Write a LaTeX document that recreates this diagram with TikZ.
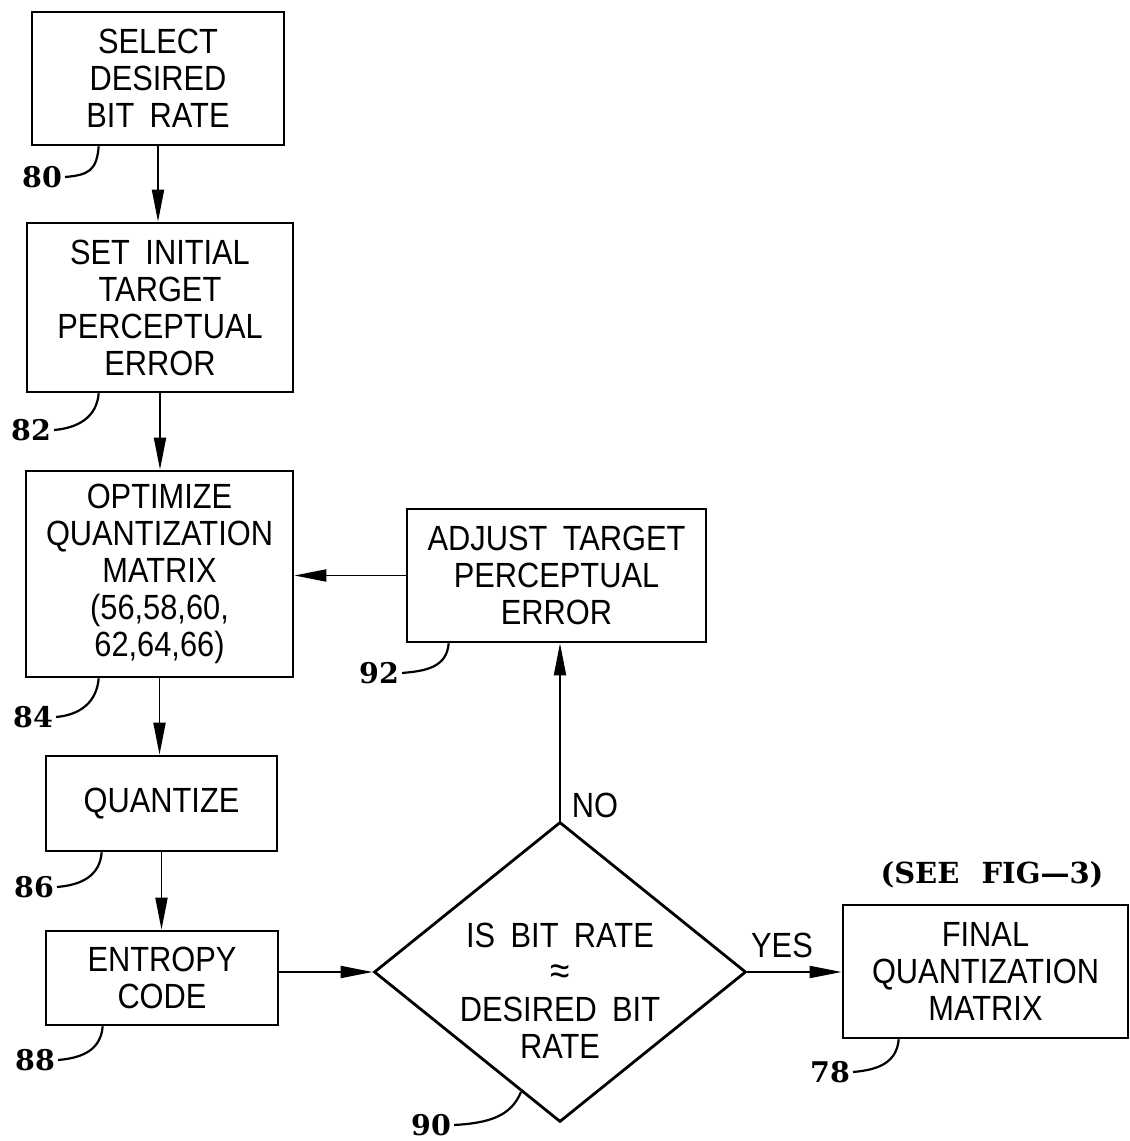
\documentclass[tikz,border=0pt]{standalone}
\usepackage{fontspec}
\setsansfont{Liberation Sans}[FakeStretch=0.88,WordSpace=1.8]
\newfontfamily\refnumfont{DejaVu Serif}[WordSpace=2.2]
\usetikzlibrary{shapes.geometric,arrows.meta}

\begin{document}
\begin{tikzpicture}[x=1pt, y=1pt,
		block/.style={draw, line width=2.6pt, align=center, inner sep=0pt,
			font=\sffamily\fontsize{35}{37}\selectfont},
		decision/.style={draw, diamond, aspect=1.24, line width=2.8pt, align=center,
			inner sep=-20pt, minimum width=372pt, minimum height=300pt,
			font=\sffamily\fontsize{35}{37}\selectfont},
		refnum/.style={inner sep=0pt, font=\refnumfont\bfseries\fontsize{28.5}{31}\selectfont},
		flowtext/.style={inner sep=0pt, font=\sffamily\fontsize{35}{37}\selectfont},
		flow/.style={line width=1.9pt, -{Triangle[length=32pt,width=12pt]}},
		leader/.style={line width=2.2pt}]
	\useasboundingbox (0,0) rectangle (1130,1141);

	% Blocks
	\node[block, minimum width=252pt, minimum height=133pt] (B_80) at (158,1062.5)
		{SELECT\\DESIRED\\BIT RATE};
	\node[block, minimum width=266pt, minimum height=169pt] (B_82) at (160,833.5)
		{SET INITIAL\\TARGET\\PERCEPTUAL\\ERROR};
	\node[block, minimum width=267pt, minimum height=206pt] (B_84) at (159.5,567)
		{OPTIMIZE\\QUANTIZATION\\MATRIX\\(56,58,60,\\62,64,66)};
	\node[block, minimum width=231pt, minimum height=95pt] (B_86) at (161.5,337.5)
		{QUANTIZE};
	\node[block, minimum width=232pt, minimum height=94pt] (B_88) at (162,163)
		{ENTROPY\\CODE};
	\node[decision] (D_90) at (560,169)
		{\rule{0pt}{62pt}IS BIT RATE\\{\fontsize{40}{37}\selectfont ≈}\\DESIRED BIT\\RATE};
	\node[block, minimum width=299pt, minimum height=133pt] (B_92) at (556.5,565.5)
		{ADJUST TARGET\\PERCEPTUAL\\ERROR};
	\node[block, minimum width=285pt, minimum height=133pt] (B_78) at (985.5,169.5)
		{FINAL\\QUANTIZATION\\MATRIX};
	\node[refnum, font=\refnumfont\bfseries\fontsize{29}{32}\selectfont] (T_see) at (992,266)
		{(SEE FIG—3)};

	% Reference numbers
	\node[refnum] (L_80) at (42,964) {80};
	\node[refnum] (L_82) at (31,711) {82};
	\node[refnum] (L_84) at (33,424) {84};
	\node[refnum] (L_86) at (34,254) {86};
	\node[refnum] (L_88) at (35,81) {88};
	\node[refnum] (L_92) at (379,468) {92};
	\node[refnum] (L_90) at (431,16) {90};
	\node[refnum] (L_78) at (830,69) {78};

	\foreach \n/\dx in {80/68, 82/73, 84/74, 86/57, 88/58, 92/43, 78/57}
		\draw[leader] ([xshift=3pt]L_\n.east) .. controls +(24,2) and +(-2,-24) .. ([xshift=\dx pt]B_\n.south west);
	\draw[leader] ([xshift=3pt]L_90.east) .. controls +(36,2) and +(-10,-24) .. (D_90.-108);

	% Flow
	\draw[flow] (B_80.south) -- (B_80.south |- B_82.north);
	\draw[flow] (B_82.south) -- (B_82.south |- B_84.north);
	\draw[flow] (B_84.south) -- (B_84.south |- B_86.north);
	\draw[flow] (B_86.south) -- (B_86.south |- B_88.north);
	\draw[flow] (B_88.east |- D_90.west) -- (D_90.west);
	\draw[flow] (D_90.north) -- (D_90.north |- B_92.south);
	\draw[flow] (B_92.west) -- (B_92.west -| B_84.east);
	\draw[flow] (D_90.east) -- (D_90.east -| B_78.west);

	\node[flowtext] (T_no) at (595,336) {NO};
	\node[flowtext] (T_yes) at (782,196) {YES};
\end{tikzpicture}
\end{document}
